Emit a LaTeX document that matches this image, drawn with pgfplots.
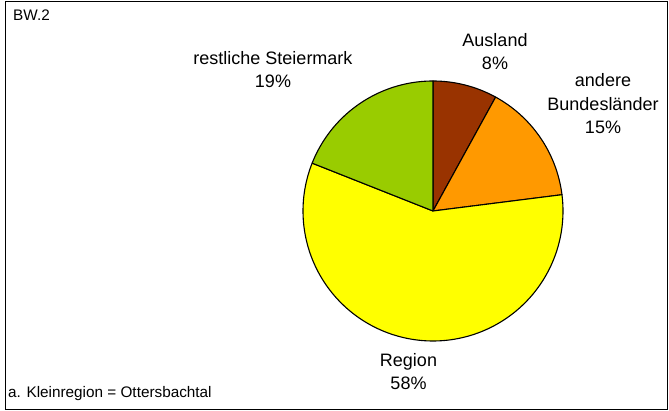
\documentclass[border=0pt]{standalone}
\usepackage{pgfplots}
\pgfplotsset{compat=1.18}
\usepackage{fontspec}
\setmainfont{Liberation Sans}
\definecolor{ausland}{HTML}{993300}
\definecolor{bund}{HTML}{FF9900}
\definecolor{region}{HTML}{FFFF00}
\definecolor{steier}{HTML}{99CC00}

% shares in percent, clockwise from 12 o'clock
\def\pAus{8}
\def\pBund{15}
\def\pReg{58}
\def\pSteier{19}
\pgfmathsetmacro\aA{90}
\pgfmathsetmacro\aB{\aA-3.6*\pAus}
\pgfmathsetmacro\aC{\aB-3.6*\pBund}
\pgfmathsetmacro\aD{\aC-3.6*\pReg}
\pgfmathsetmacro\aE{\aD-3.6*\pSteier}

\begin{document}
\begin{tikzpicture}
\begin{axis}[
  scale only axis,
  width=669pt, height=411pt,
  xmin=0, xmax=669, ymin=0, ymax=411,
  hide axis,
  clip=false,
  every axis plot/.append style={draw=black, line width=1.1pt, line join=round},
]
\path[fill=white] (axis cs:0,0) rectangle (axis cs:669,411);
\draw[black, line width=0.9pt] (axis cs:5,2) rectangle (axis cs:667,409.5);

\addplot[fill=ausland, domain=\aB:\aA, samples=40]
  ({433+130*cos(x)},{200+130*sin(x)}) -- (axis cs:433,200) -- cycle;
\addplot[fill=bund, domain=\aC:\aB, samples=60]
  ({433+130*cos(x)},{200+130*sin(x)}) -- (axis cs:433,200) -- cycle;
\addplot[fill=region, domain=\aD:\aC, samples=160]
  ({433+130*cos(x)},{200+130*sin(x)}) -- (axis cs:433,200) -- cycle;
\addplot[fill=steier, domain=\aE:\aD, samples=60]
  ({433+130*cos(x)},{200+130*sin(x)}) -- (axis cs:433,200) -- cycle;

% anchor=base sits on the last line of each label
\begin{scope}[every node/.style={font=\fontsize{18}{23.5}\selectfont, align=center, inner sep=0pt}]
\node[anchor=base] at (axis cs:495,341) {Ausland\\\pAus\%};
\node[anchor=base] at (axis cs:603,277) {andere\\Bundesländer\\\pBund\%};
\node[anchor=base] at (axis cs:273,323) {restliche Steiermark\\\pSteier\%};
\node[anchor=base] at (axis cs:408.5,21) {Region\\\pReg\%};
\end{scope}
\begin{scope}[every node/.style={font=\fontsize{15.3}{18}\selectfont, inner sep=0pt}]
\node[anchor=base west] at (axis cs:13,390) {BW.2};
\node[anchor=base west] at (axis cs:8,13) {a. Kleinregion = Ottersbachtal};
\end{scope}
\end{axis}
\end{tikzpicture}
\end{document}
